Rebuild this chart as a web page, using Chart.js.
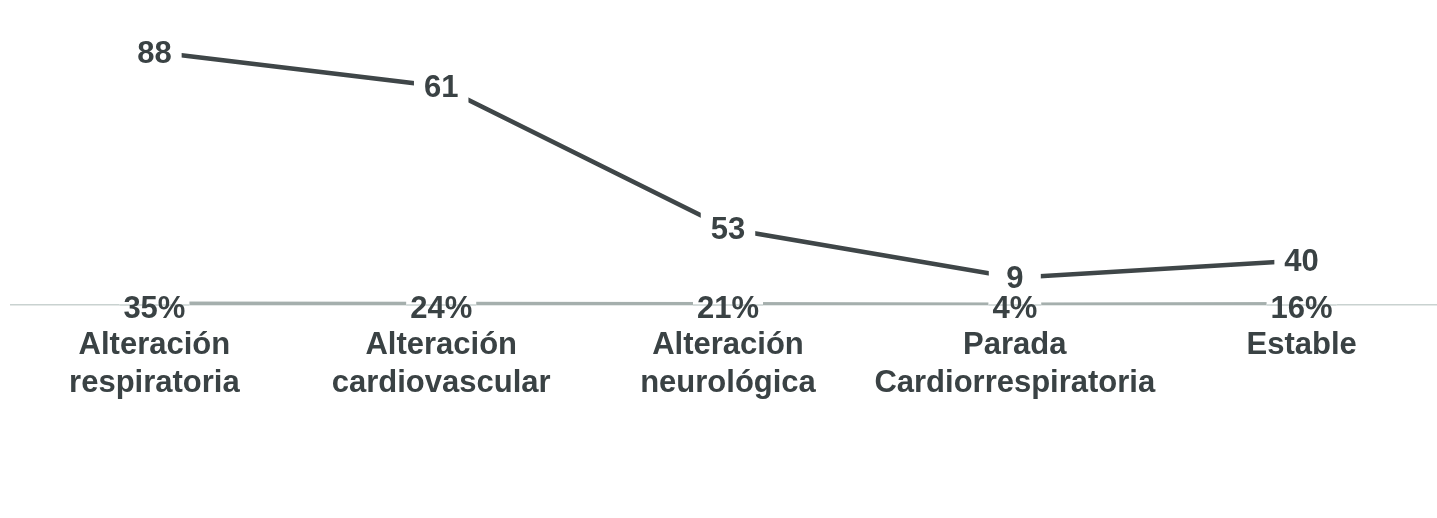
<!DOCTYPE html>
<html lang="es">
<head>
<meta charset="UTF-8">
<title>Motivo de ingreso</title>
<script src="https://cdn.jsdelivr.net/npm/chart.js@4.4.1/dist/chart.umd.min.js"></script>
<style>
  html, body { margin: 0; padding: 0; background: #fff; overflow: hidden; }
  #wrap { position: relative; width: 1445px; height: 518px; }
</style>
</head>
<body>
<div id="wrap"><canvas id="grafico"></canvas></div>
<script>
// ===== DATOS =====
const categorias = [
  ["Alteración", "respiratoria"],
  ["Alteración", "cardiovascular"],
  ["Alteración", "neurológica"],
  ["Parada", "Cardiorrespiratoria"],
  ["Estable"]
];

// número de casos (etiquetas de la línea oscura)
const casos = [88, 61, 53, 9, 40];

// altura a la que aparece la línea oscura en la imagen (misma escala que los casos)
const nivelLinea = [88, 76, 26.5, 9.5, 15.5];

// porcentaje de casos (se dibuja como fracción sobre el mismo eje, queda pegado a cero)
const porcentajes = [35, 24, 21, 4, 16];

const colorTexto = "#3a4244";
const colorLinea = "#3f4648";
const colorPct = "#a5afad";
const colorEje = "#c9d2d0";
const fuente = "'Liberation Sans', Arial, sans-serif";

// ===== ETIQUETAS DE DATOS (con fondo blanco que corta la línea) =====
// primero la serie de casos, después los porcentajes para que no los tape
const etiquetas = {
  id: "etiquetas",
  afterDatasetsDraw(chart) {
    const ctx = chart.ctx;
    const ejeY = chart.scales.y.getPixelForValue(0);
    ctx.save();
    ctx.font = "bold 31px " + fuente;
    ctx.textAlign = "center";
    ctx.textBaseline = "middle";

    [1, 0].forEach(i => {
      const ds = chart.data.datasets[i];
      const meta = chart.getDatasetMeta(i);
      meta.data.forEach((pt, j) => {
        const txt = ds.textos[j];
        const w = ctx.measureText(txt).width;
        ctx.fillStyle = "#fff";
        if (ds.etiquetaBaja) {
          ctx.fillRect(pt.x - w / 2 - 4, pt.y - 6, w + 8, 12);
          ctx.strokeStyle = colorEje;
          ctx.lineWidth = 1.5;
          ctx.beginPath();
          ctx.moveTo(pt.x - w / 2 - 4, ejeY);
          ctx.lineTo(pt.x + w / 2 + 4, ejeY);
          ctx.stroke();
          ctx.fillStyle = colorTexto;
          ctx.fillText(txt, pt.x, pt.y + 5);
        } else {
          const bw = Math.max(w + 20, 52);
          ctx.fillRect(pt.x - bw / 2, pt.y - 18, bw, 36);
          ctx.fillStyle = colorTexto;
          ctx.fillText(txt, pt.x, pt.y + 2);
        }
      });
    });
    ctx.restore();
  }
};

// ===== GRÁFICO =====
const ctx = document.getElementById("grafico").getContext("2d");
new Chart(ctx, {
  type: "line",
  data: {
    labels: categorias,
    datasets: [
      {
        label: "Porcentaje",
        data: porcentajes.map(p => p / 100),
        textos: porcentajes.map(p => p + "%"),
        etiquetaBaja: true,
        borderColor: colorPct,
        borderWidth: 5,
        pointRadius: 0,
        tension: 0
      },
      {
        label: "Casos",
        data: nivelLinea,
        textos: casos.map(String),
        borderColor: colorLinea,
        borderWidth: 4.5,
        pointRadius: 0,
        tension: 0
      }
    ]
  },
  plugins: [etiquetas],
  options: {
    responsive: true,
    maintainAspectRatio: false,
    animation: false,
    layout: { padding: { left: 11, top: 17.5, right: 0, bottom: 0 } },
    plugins: {
      legend: { display: false },
      tooltip: { enabled: false }
    },
    scales: {
      x: {
        offset: true,
        grid: { display: true, drawOnChartArea: false, drawTicks: false },
        border: { display: true, color: colorEje, width: 1.5 },
        ticks: {
          color: colorTexto,
          padding: 22,
          maxRotation: 0,
          autoSkip: false,
          font: { family: fuente, size: 31, weight: "bold", lineHeight: 1.22 }
        },
        afterFit(scale) { scale.height = 213; }
      },
      y: {
        display: false,
        min: 0,
        max: 100
      }
    }
  }
});
</script>
</body>
</html>
